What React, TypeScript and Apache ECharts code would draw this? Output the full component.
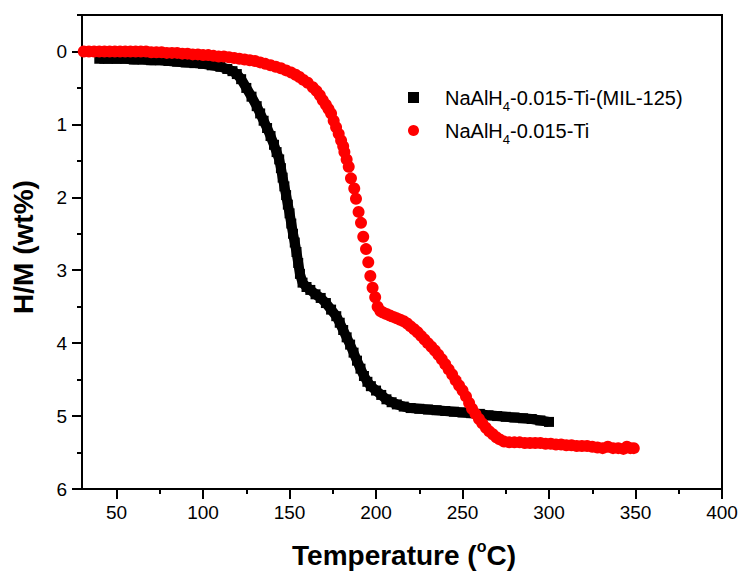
import React, { useEffect, useRef } from "react";
import * as echarts from "echarts";

const FONT = "'Liberation Sans', Arial, sans-serif";

const seriesNames = ["NaAlH4-0.015-Ti-(MIL-125)", "NaAlH4-0.015-Ti"];

const xMajorTicks = [50, 100, 150, 200, 250, 300, 350, 400];
const xMinorTicks = [75, 125, 175, 225, 275, 325, 375];
const yMajorTicks = [0, 1, 2, 3, 4, 5, 6];
const yMinorTicks = [-0.5, 0.5, 1.5, 2.5, 3.5, 4.5, 5.5];

// NaAlH4-0.015-Ti-(MIL-125)  (black squares)
const blackTemp = [
  40, 45, 50, 55, 60, 65, 70, 75, 80, 85,
  90, 95, 100, 105, 110, 114, 117, 119.5, 122, 125,
  128, 131, 133, 135, 137, 139, 141, 142.5, 144, 145,
  146, 147, 148, 149, 150, 151, 152, 153, 154, 155,
  156, 157.5, 159.8, 162, 165, 168, 171, 174, 177, 179,
  181, 183, 185, 187, 189, 191, 193, 195, 197, 200,
  203, 206, 209, 212, 216, 220, 225, 230, 235, 240,
  245, 250, 255, 260, 265, 270, 275, 280, 285, 290,
  295, 300,
];
const blackHM = [
  0.1, 0.1, 0.1, 0.1, 0.11, 0.11, 0.12, 0.12, 0.13, 0.14,
  0.15, 0.16, 0.17, 0.19, 0.21, 0.24, 0.27, 0.31, 0.38, 0.5,
  0.62, 0.75, 0.85, 0.95, 1.05, 1.16, 1.28, 1.38, 1.48, 1.6,
  1.73, 1.85, 1.97, 2.1, 2.22, 2.36, 2.5, 2.62, 2.75, 2.9,
  3.05, 3.17, 3.23, 3.27, 3.33, 3.38, 3.45, 3.54, 3.63, 3.72,
  3.82, 3.92, 4.02, 4.13, 4.24, 4.35, 4.45, 4.53, 4.59, 4.65,
  4.71, 4.77, 4.81, 4.84, 4.87, 4.89, 4.9, 4.91, 4.92, 4.93,
  4.94, 4.95, 4.96, 4.97, 4.99, 5.0, 5.01, 5.02, 5.03, 5.04,
  5.06, 5.08,
];

// NaAlH4-0.015-Ti  (red circles)
const redTemp = [
  31, 34, 37, 40, 43, 46, 49, 52, 55, 58,
  61, 64, 67, 70, 73, 76, 79, 82, 85, 88,
  91, 94, 97, 100, 103, 106, 109, 112, 115, 118,
  121, 124, 127, 130, 133, 136, 139, 142, 145, 148,
  151, 153.5, 155.7, 158, 160.5, 163.4, 165.5, 167.5, 169.2, 171,
  172.5, 174, 175.5, 176.9, 178.4, 179.8, 181, 181.7, 183, 184.2,
  185.5, 187.4, 188.4, 189.9, 191.3, 192.6, 194.2, 195.5, 196.7, 198,
  199.5, 200.9, 202.5, 204, 206, 208, 210, 212, 214, 216,
  218, 220, 222, 224, 226, 228, 230, 232, 234, 236,
  238, 240, 242, 244, 246, 248, 250, 252, 253.8, 255.5,
  257.5, 259.5, 261.4, 263.5, 265.5, 267.5, 269.5, 271.5, 274, 277,
  280, 283, 286, 289, 292, 295, 298, 301, 304, 307,
  310, 313, 316, 319, 322, 325, 328, 331, 334, 337,
  340, 343, 345, 347, 349,
];
const redHM = [
  0, 0, 0, 0, 0, 0, 0, 0, 0, 0,
  0, 0, 0, 0.01, 0.01, 0.01, 0.02, 0.02, 0.02, 0.03,
  0.03, 0.04, 0.04, 0.05, 0.05, 0.06, 0.07, 0.07, 0.08, 0.09,
  0.1, 0.11, 0.12, 0.13, 0.15, 0.17, 0.19, 0.21, 0.23, 0.26,
  0.29, 0.32, 0.35, 0.39, 0.43, 0.49, 0.54, 0.6, 0.67, 0.73,
  0.79, 0.85, 0.95, 1.04, 1.13, 1.22, 1.3, 1.38, 1.48, 1.58,
  1.74, 1.88, 2.02, 2.2, 2.35, 2.54, 2.71, 2.89, 3.08, 3.24,
  3.37, 3.5, 3.56, 3.58, 3.6, 3.62, 3.64, 3.66, 3.68, 3.7,
  3.73, 3.77, 3.81, 3.85, 3.9, 3.95, 4.0, 4.05, 4.1, 4.16,
  4.22, 4.29, 4.36, 4.43, 4.51, 4.58, 4.65, 4.73, 4.82, 4.9,
  4.97, 5.04, 5.1, 5.16, 5.21, 5.25, 5.29, 5.32, 5.35, 5.36,
  5.36, 5.36, 5.37, 5.37, 5.37, 5.37, 5.38, 5.38, 5.39, 5.39,
  5.4, 5.4, 5.41, 5.41, 5.41, 5.42, 5.43, 5.44, 5.42, 5.44,
  5.44, 5.45, 5.42, 5.44, 5.44,
];

const zip = (a: number[], b: number[]) => a.map((v, i) => [v, b[i]]);

export default function App() {
  const ref = useRef<HTMLDivElement>(null);

  useEffect(() => {
    if (!ref.current) return;
    const chart = echarts.init(ref.current, null, { renderer: "svg" });

    const lineStyle = { color: "#000", width: 2 };
    const axisBase = {
      type: "value" as const,
      splitLine: { show: false },
    };

    const option = {
      animation: false,
      backgroundColor: "#fff",
      grid: {
        left: 82,
        top: 15,
        width: 640,
        height: 474,
        show: true,
        borderColor: "#000",
        borderWidth: 2,
        backgroundColor: "transparent",
      },
      legend: {
        orient: "vertical",
        left: 403,
        top: 77,
        itemWidth: 11,
        itemHeight: 11,
        itemGap: 2,
        selectedMode: false,
        data: [
          { name: seriesNames[0], icon: "rect" },
          { name: seriesNames[1], icon: "circle" },
        ],
        formatter: (name: string) =>
          name === seriesNames[0]
            ? "{p|NaAlH}{s|4}{a|-0.015-Ti-(MIL-125)}"
            : "{p|NaAlH}{s|4}{a|-0.015-Ti}",
        textStyle: {
          rich: {
            p: { fontSize: 20, fontFamily: FONT, color: "#000", lineHeight: 22, padding: [0, 0, 0, 21] },
            a: { fontSize: 20, fontFamily: FONT, color: "#000", lineHeight: 22 },
            s: { fontSize: 13, fontFamily: FONT, color: "#000", lineHeight: 2, padding: [18, 0, 0, 0] },
          },
        },
      },
      xAxis: [
        {
          ...axisBase,
          min: 30,
          max: 400,
          position: "bottom",
          axisLine: { show: true, onZero: false, lineStyle },
          axisTick: { show: true, inside: false, length: 10, lineStyle, customValues: xMajorTicks },
          axisLabel: { show: true, customValues: xMajorTicks, fontSize: 19, color: "#000", fontFamily: FONT, margin: 14 },
        },
        {
          ...axisBase,
          min: 30,
          max: 400,
          position: "top",
          offset: -474,
          axisLine: { show: false },
          axisTick: { show: true, inside: true, length: 5, lineStyle, customValues: xMinorTicks },
          axisLabel: { show: false },
        },
      ],
      yAxis: [
        {
          ...axisBase,
          min: -0.5,
          max: 6,
          inverse: true,
          position: "left",
          axisLine: { show: true, onZero: false, lineStyle },
          axisTick: { show: true, inside: false, length: 10, lineStyle, customValues: yMajorTicks },
          axisLabel: { show: true, customValues: yMajorTicks, fontSize: 19, color: "#000", fontFamily: FONT, margin: 15 },
        },
        {
          ...axisBase,
          min: -0.5,
          max: 6,
          inverse: true,
          position: "right",
          offset: -640,
          axisLine: { show: false },
          axisTick: { show: true, inside: true, length: 5, lineStyle, customValues: yMinorTicks },
          axisLabel: { show: false },
        },
      ],
      series: [
        {
          name: seriesNames[0],
          type: "line",
          xAxisIndex: 0,
          yAxisIndex: 0,
          data: zip(blackTemp, blackHM),
          symbol: "rect",
          symbolSize: 10,
          showSymbol: true,
          showAllSymbol: true,
          lineStyle: { color: "#000", width: 10 },
          itemStyle: { color: "#000" },
          z: 2,
        },
        {
          name: seriesNames[1],
          type: "scatter",
          xAxisIndex: 0,
          yAxisIndex: 0,
          data: zip(redTemp, redHM),
          symbol: "circle",
          symbolSize: 12,
          itemStyle: { color: "#ff0000", opacity: 1 },
          z: 3,
        },
      ],
      graphic: [
        {
          type: "text",
          x: 404,
          y: 555,
          style: {
            text: "{a|Temperature (}{b|o}{a|C)}",
            align: "center",
            verticalAlign: "middle",
            rich: {
              a: { fontSize: 28, fontWeight: "bold", fontFamily: FONT, fill: "#000" },
              b: { fontSize: 16, fontWeight: "bold", fontFamily: FONT, fill: "#000", lineHeight: 2, padding: [0, 0, 18, 0] },
            },
          },
        },
        {
          type: "text",
          x: 23,
          y: 247,
          rotation: Math.PI / 2,
          style: {
            text: "H/M (wt%)",
            fontSize: 28,
            fontWeight: "bold",
            fontFamily: FONT,
            fill: "#000",
            align: "center",
            verticalAlign: "middle",
          },
        },
      ],
    };

    chart.setOption(option as any);
    return () => chart.dispose();
  }, []);

  return (
    <div
      ref={ref}
      style={{ position: "absolute", left: 0, top: 0, width: 741, height: 575 }}
    />
  );
}
